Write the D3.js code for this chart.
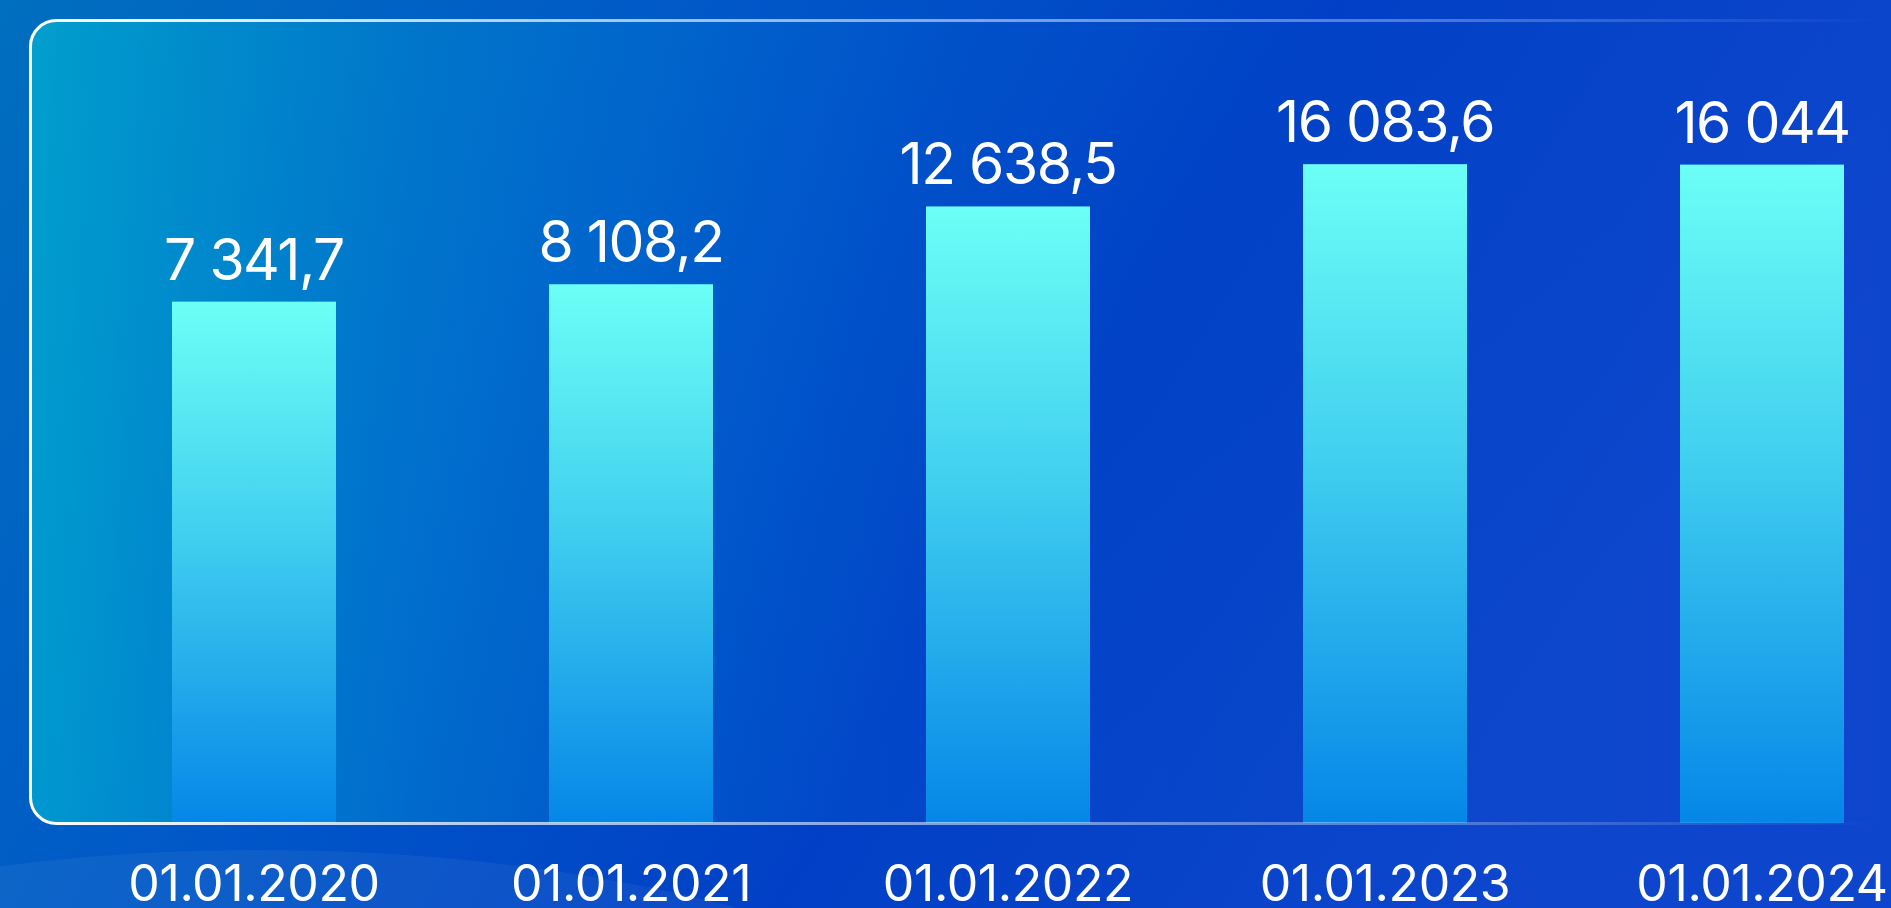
<!DOCTYPE html>
<html>
<head>
<meta charset="utf-8">
<script src="https://cdn.jsdelivr.net/npm/d3@7"></script>
<style>
  html, body { margin: 0; padding: 0; overflow: hidden; background: #0450c6; }
  svg { display: block; font-family: Inter, "Noto Sans", sans-serif; }
</style>
</head>
<body>
<div id="chart"></div>
<script>
const width = 1891;
const height = 908;

// data
const dates = ['01.01.2020', '01.01.2021', '01.01.2022', '01.01.2023', '01.01.2024'];
const values = [7341.7, 8108.2, 12638.5, 16083.6, 16044];
const valueLabels = ['7 341,7', '8 108,2', '12 638,5', '16 083,6', '16 044'];

const baseY = 823;

const svg = d3.select('#chart')
  .append('svg')
  .attr('width', width)
  .attr('height', height);

const defs = svg.append('defs');

// background
const bg = defs.append('linearGradient')
  .attr('id', 'bg')
  .attr('x1', '0%').attr('y1', '0%')
  .attr('x2', '100%').attr('y2', '30%');
bg.append('stop').attr('offset', '0%').attr('stop-color', '#006fbf');
bg.append('stop').attr('offset', '35%').attr('stop-color', '#0058c8');
bg.append('stop').attr('offset', '65%').attr('stop-color', '#0140c6');
bg.append('stop').attr('offset', '100%').attr('stop-color', '#0d46cc');

// cyan glow inside the frame
const glow = defs.append('linearGradient')
  .attr('id', 'glow')
  .attr('x1', '0%').attr('y1', '0%')
  .attr('x2', '100%').attr('y2', '0%');
glow.append('stop').attr('offset', '0%').attr('stop-color', '#00c8d8').attr('stop-opacity', 0.55);
glow.append('stop').attr('offset', '20%').attr('stop-color', '#00a8d8').attr('stop-opacity', 0.3);
glow.append('stop').attr('offset', '50%').attr('stop-color', '#0080e0').attr('stop-opacity', 0.05);
glow.append('stop').attr('offset', '100%').attr('stop-color', '#0080e0').attr('stop-opacity', 0);

// frame border fades out to the right
const border = defs.append('linearGradient')
  .attr('id', 'border')
  .attr('gradientUnits', 'userSpaceOnUse')
  .attr('x1', 29).attr('y1', 0)
  .attr('x2', 1880).attr('y2', 0);
border.append('stop').attr('offset', '0%').attr('stop-color', '#ffffff').attr('stop-opacity', 1);
border.append('stop').attr('offset', '25%').attr('stop-color', '#ffffff').attr('stop-opacity', 0.7);
border.append('stop').attr('offset', '75%').attr('stop-color', '#ffffff').attr('stop-opacity', 0.3);
border.append('stop').attr('offset', '100%').attr('stop-color', '#ffffff').attr('stop-opacity', 0);

// bars
const barGrad = defs.append('linearGradient')
  .attr('id', 'bar')
  .attr('x1', '0%').attr('y1', '0%')
  .attr('x2', '0%').attr('y2', '100%');
barGrad.append('stop').attr('offset', '0%').attr('stop-color', '#6cfff6');
barGrad.append('stop').attr('offset', '45%').attr('stop-color', '#40cfef');
barGrad.append('stop').attr('offset', '100%').attr('stop-color', '#0586e8');

svg.append('rect')
  .attr('width', width)
  .attr('height', height)
  .attr('fill', 'url(#bg)');

// soft light arc at bottom left
svg.append('ellipse')
  .attr('cx', 260)
  .attr('cy', 1230)
  .attr('rx', 900)
  .attr('ry', 380)
  .attr('fill', '#ffffff')
  .attr('opacity', 0.05);

svg.append('rect')
  .attr('x', 29)
  .attr('y', 20)
  .attr('width', 1900)
  .attr('height', baseY - 20)
  .attr('rx', 26)
  .attr('fill', 'url(#glow)');

const x = d3.scaleBand()
  .domain(dates)
  .range([172, 1844])
  .paddingInner(0.565)
  .paddingOuter(0);

const y = d3.scaleLog()
  .domain([375, 16100])
  .range([baseY, 164]);

svg.selectAll('rect.bar')
  .data(values)
  .enter()
  .append('rect')
  .attr('class', 'bar')
  .attr('x', (d, i) => x(dates[i]))
  .attr('y', d => y(d))
  .attr('width', x.bandwidth())
  .attr('height', d => baseY - y(d))
  .attr('fill', 'url(#bar)');

svg.append('rect')
  .attr('x', 30.5)
  .attr('y', 20.5)
  .attr('width', 1900)
  .attr('height', baseY - 20)
  .attr('rx', 26)
  .attr('fill', 'none')
  .attr('stroke', 'url(#border)')
  .attr('stroke-width', 3);

svg.selectAll('text.value')
  .data(values)
  .enter()
  .append('text')
  .attr('class', 'value')
  .attr('x', (d, i) => x(dates[i]) + x.bandwidth() / 2)
  .attr('y', d => y(d) - 22)
  .attr('text-anchor', 'middle')
  .attr('fill', '#ffffff')
  .style('font-size', '57px')
  .style('letter-spacing', '-1.5px')
  .text((d, i) => valueLabels[i]);

const xAxis = d3.axisBottom(x).tickSize(0).tickPadding(0);

const gx = svg.append('g')
  .attr('transform', `translate(0, 901)`)
  .call(xAxis);
gx.select('.domain').remove();
gx.selectAll('text')
  .attr('y', 0)
  .attr('dy', 0)
  .attr('fill', '#ffffff')
  .style('font-family', 'Inter, "Noto Sans", sans-serif')
  .style('font-size', '50px')
  .style('letter-spacing', '-0.4px');
</script>
</body>
</html>
